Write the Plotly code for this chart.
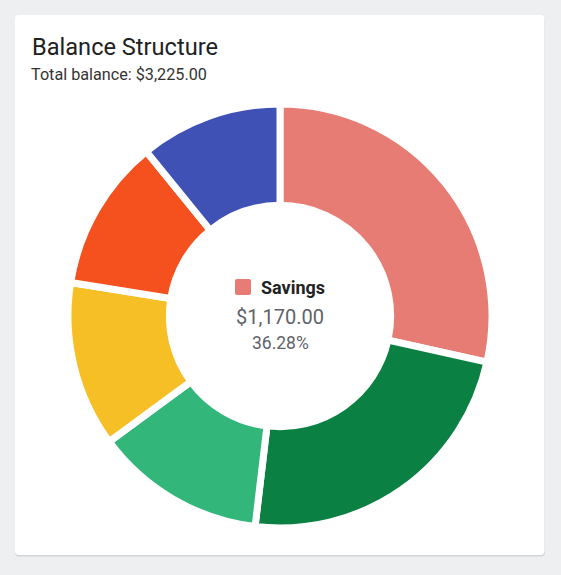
import plotly.graph_objects as go

# ---- data ----
accounts = ["Savings", "Checking", "Investments", "Cash", "Wallet", "Crypto"]
balances = [1170.00, 960.00, 535.00, 518.00, 477.00, 446.00]
colors = ["#E67C73", "#0B8043", "#33B679", "#F6BF26", "#F4511E", "#3F51B5"]
total_balance = 3225.00
title_text = "Balance Structure"
highlight = 0  # index of the slice shown in the centre

W, H = 561, 575

def px(x):
    return x / W

def py(y):
    return 1 - y / H

# pie geometry (pixels)
cx, cy = 280, 316
r_out = 212
hole = 0.522

fig = go.Figure()
fig.add_trace(go.Pie(
    labels=accounts,
    values=balances,
    marker=dict(colors=colors, line=dict(color="white", width=7)),
    hole=hole,
    sort=False,
    direction="clockwise",
    rotation=0,
    textinfo="none",
    hoverinfo="none",
    showlegend=False,
    domain=dict(x=[px(cx - r_out), px(cx + r_out)],
                y=[py(cy + r_out), py(cy - r_out)]),
))

def rounded_rect(x0, y0, x1, y1, r):
    def P(x, y):
        return f"{px(x):.5f},{py(y):.5f}"
    return (f"M {P(x0 + r, y0)} L {P(x1 - r, y0)} Q {P(x1, y0)} {P(x1, y0 + r)} "
            f"L {P(x1, y1 - r)} Q {P(x1, y1)} {P(x1 - r, y1)} "
            f"L {P(x0 + r, y1)} Q {P(x0, y1)} {P(x0, y1 - r)} "
            f"L {P(x0, y0 + r)} Q {P(x0, y0)} {P(x0 + r, y0)} Z")

shapes = [
    dict(type="path", xref="paper", yref="paper", layer="below",
         path=rounded_rect(15, 16.5, 545, 556.5, 4),
         fillcolor="#d4d5d8", line=dict(width=0)),
    dict(type="path", xref="paper", yref="paper", layer="below",
         path=rounded_rect(15, 15, 544.5, 555, 4),
         fillcolor="white", line=dict(width=0)),
    # legend swatch in centre
    dict(type="path", xref="paper", yref="paper", layer="above",
         path=rounded_rect(235, 279, 251, 295, 2),
         fillcolor=colors[highlight], line=dict(width=0)),
]

pct = balances[highlight] / total_balance * 100
annotations = [
    dict(x=px(29.5), y=py(47), xref="paper", yref="paper", xanchor="left", yanchor="middle",
         text=title_text, showarrow=False,
         font=dict(family="Roboto", size=23.6, color="#212121")),
    dict(x=px(28.5), y=py(74), xref="paper", yref="paper", xanchor="left", yanchor="middle",
         text=f"Total balance: ${total_balance:,.2f}", showarrow=False,
         font=dict(family="Roboto", size=16.2, color="#333333")),
    dict(x=px(259), y=py(287), xref="paper", yref="paper", xanchor="left", yanchor="middle",
         text=f"<b>{accounts[highlight]}</b>", showarrow=False,
         font=dict(family="Roboto", size=18, color="#222222")),
    dict(x=px(280), y=py(317), xref="paper", yref="paper", xanchor="center", yanchor="middle",
         text=f"${balances[highlight]:,.2f}", showarrow=False,
         font=dict(family="Roboto", size=20, color="#5f6368")),
    dict(x=px(280), y=py(343), xref="paper", yref="paper", xanchor="center", yanchor="middle",
         text=f"{pct:.2f}%", showarrow=False,
         font=dict(family="Roboto", size=17.5, color="#5f6368")),
]

fig.update_layout(
    width=W, height=H,
    margin=dict(l=0, r=0, t=0, b=0),
    paper_bgcolor="#eeeff1",
    plot_bgcolor="#eeeff1",
    shapes=shapes,
    annotations=annotations,
    font=dict(family="Roboto"),
)

fig.write_html("out.html",
               config=dict(displayModeBar=False),
               post_script="document.body.style.margin='0';document.body.style.overflow='hidden';")
